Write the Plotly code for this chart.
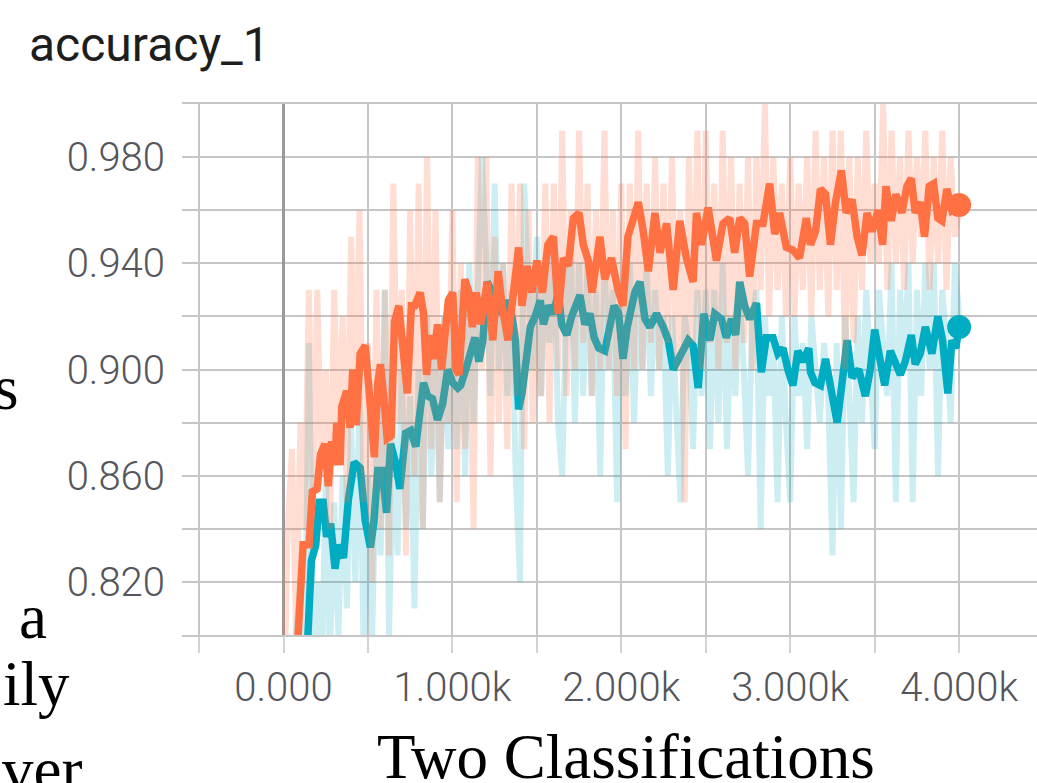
import plotly.graph_objects as go

# ---------------- data ----------------
raw_steps = list(range(0, 4001, 25))

orange_raw = [
    0.76, 0.84, 0.87, 0.80, 0.88, 0.84, 0.93, 0.85,
    0.93, 0.86, 0.90, 0.84, 0.93, 0.87, 0.92, 0.85,
    0.95, 0.88, 0.96, 0.85, 0.91, 0.82, 0.93, 0.84,
    0.93, 0.83, 0.97, 0.88, 0.93, 0.83, 0.96, 0.86,
    0.97, 0.84, 0.98, 0.87, 0.96, 0.85, 0.92, 0.88,
    0.96, 0.85, 0.94, 0.87, 0.93, 0.84, 0.98, 0.90,
    0.98, 0.86, 0.95, 0.88, 0.94, 0.87, 0.97, 0.89,
    0.97, 0.87, 0.96, 0.88, 0.93, 0.89, 0.97, 0.88,
    0.97, 0.90, 0.99, 0.89, 0.96, 0.90, 0.99, 0.91,
    0.97, 0.89, 0.96, 0.90, 0.99, 0.90, 0.96, 0.89,
    0.97, 0.87, 0.97, 0.90, 0.99, 0.90, 0.97, 0.91,
    0.98, 0.90, 0.97, 0.91, 0.98, 0.90, 0.96, 0.85,
    0.98, 0.91, 0.99, 0.90, 0.99, 0.91, 0.97, 0.90,
    0.99, 0.91, 0.98, 0.90, 0.97, 0.91, 0.98, 0.90,
    0.98, 0.93, 1.00, 0.92, 0.98, 0.93, 0.97, 0.92,
    0.98, 0.92, 0.97, 0.93, 0.98, 0.92, 0.99, 0.93,
    0.98, 0.92, 0.99, 0.93, 0.99, 0.90, 0.98, 0.91,
    0.98, 0.93, 0.99, 0.94, 0.97, 0.94, 1.00, 0.93,
    0.99, 0.94, 0.98, 0.93, 0.99, 0.94, 0.98, 0.95,
    0.99, 0.93, 0.98, 0.94, 0.99, 0.93, 0.98, 0.95,
    0.96,
]

teal_raw = [
    0.70, 0.74, 0.78, 0.80, 0.82, 0.78, 0.91, 0.80,
    0.82, 0.78, 0.86, 0.79, 0.85, 0.80, 0.86, 0.81,
    0.88, 0.82, 0.89, 0.79, 0.86, 0.80, 0.87, 0.83,
    0.93, 0.80, 0.88, 0.83, 0.90, 0.84, 0.89, 0.81,
    0.90, 0.84, 0.92, 0.86, 0.91, 0.85, 0.92, 0.87,
    0.92, 0.87, 0.93, 0.86, 0.94, 0.88, 0.93, 0.98,
    0.94, 0.89, 0.97, 0.90, 0.94, 0.89, 0.93, 0.86,
    0.82, 0.97, 0.93, 0.90, 0.95, 0.89, 0.94, 0.91,
    0.95, 0.88, 0.86, 0.93, 0.95, 0.88, 0.94, 0.89,
    0.94, 0.89, 0.93, 0.86, 0.94, 0.90, 0.93, 0.85,
    0.93, 0.89, 0.94, 0.88, 0.93, 0.90, 0.94, 0.89,
    0.93, 0.90, 0.92, 0.86, 0.92, 0.89, 0.85, 0.92,
    0.91, 0.87, 0.93, 0.89, 0.93, 0.87, 0.93, 0.88,
    0.94, 0.87, 0.92, 0.89, 0.93, 0.90, 0.86, 0.92,
    0.93, 0.84, 0.92, 0.89, 0.91, 0.85, 0.92, 0.88,
    0.85, 0.92, 0.89, 0.91, 0.87, 0.92, 0.90, 0.88,
    0.91, 0.89, 0.83, 0.91, 0.84, 0.92, 0.89, 0.85,
    0.92, 0.88, 0.93, 0.90, 0.87, 0.93, 0.91, 0.89,
    0.94, 0.85, 0.93, 0.90, 0.94, 0.85, 0.93, 0.89,
    0.94, 0.90, 0.94, 0.86, 0.93, 0.91, 0.88, 0.94,
    0.92,
]

orange_smooth_steps = [
    60, 86, 116, 151, 171, 199, 219, 245, 265, 285, 305, 315, 335, 345, 374, 394,
    410, 430, 454, 484, 504, 518, 538, 558, 574, 594, 614, 637, 657, 683, 709, 733,
    757, 777, 809, 829, 847, 867, 888, 912, 936, 956, 976, 1002, 1022, 1039, 1074,
    1098, 1118, 1141, 1167, 1206, 1239, 1271, 1294, 1329, 1353, 1392, 1412, 1441,
    1471, 1500, 1533, 1565, 1598, 1627, 1657, 1686, 1716, 1749, 1775, 1804, 1827,
    1873, 1902, 1941, 1980, 2010, 2039, 2069, 2101, 2130, 2160, 2199, 2229, 2268,
    2307, 2346, 2385, 2425, 2445, 2474, 2514, 2563, 2602, 2642, 2671, 2701, 2730,
    2760, 2800, 2839, 2878, 2908, 2937, 2977, 3016, 3055, 3095, 3120, 3150, 3179,
    3209, 3238, 3268, 3303, 3331, 3366, 3396, 3425, 3455, 3484, 3520, 3547, 3567,
    3598, 3626, 3661, 3691, 3717, 3740, 3770, 3795, 3823, 3849, 3874, 3898, 3927,
    3957, 4000,
]
orange_smooth_vals = [
    0.780, 0.799, 0.834, 0.834, 0.854, 0.855, 0.868, 0.872, 0.856, 0.873, 0.864,
    0.880, 0.864, 0.886, 0.892, 0.878, 0.900, 0.879, 0.906, 0.909, 0.894, 0.878,
    0.867, 0.895, 0.902, 0.889, 0.874, 0.875, 0.918, 0.924, 0.908, 0.891, 0.924,
    0.924, 0.929, 0.921, 0.898, 0.913, 0.904, 0.917, 0.900, 0.911, 0.926, 0.929,
    0.900, 0.898, 0.934, 0.929, 0.916, 0.929, 0.917, 0.933, 0.911, 0.937, 0.924,
    0.911, 0.924, 0.946, 0.924, 0.939, 0.929, 0.941, 0.929, 0.947, 0.950, 0.921,
    0.942, 0.939, 0.957, 0.959, 0.947, 0.941, 0.929, 0.950, 0.934, 0.942, 0.930,
    0.924, 0.950, 0.957, 0.963, 0.952, 0.937, 0.959, 0.944, 0.955, 0.930, 0.956,
    0.942, 0.933, 0.959, 0.947, 0.961, 0.941, 0.955, 0.957, 0.944, 0.957, 0.955,
    0.935, 0.955, 0.955, 0.970, 0.951, 0.959, 0.946, 0.945, 0.942, 0.957, 0.947,
    0.952, 0.968, 0.966, 0.947, 0.963, 0.975, 0.959, 0.964, 0.950, 0.943, 0.959,
    0.952, 0.960, 0.947, 0.969, 0.956, 0.966, 0.959, 0.969, 0.972, 0.959, 0.963,
    0.950, 0.969, 0.970, 0.957, 0.956, 0.968, 0.960, 0.962,
]

teal_smooth_steps = [
    130, 145, 165, 191, 211, 235, 255, 279, 305, 325, 355, 384, 418, 454, 484, 514,
    534, 558, 584, 610, 634, 663, 689, 723, 753, 783, 803, 829, 853, 882, 912, 942,
    972, 1002, 1032, 1049, 1079, 1108, 1133, 1157, 1180, 1206, 1235, 1265, 1294,
    1324, 1353, 1373, 1392, 1412, 1435, 1461, 1490, 1520, 1539, 1569, 1598, 1627,
    1647, 1677, 1706, 1735, 1755, 1784, 1814, 1839, 1867, 1902, 1926, 1957, 1984,
    2010, 2035, 2069, 2080, 2110, 2140, 2169, 2209, 2248, 2278, 2307, 2342, 2366,
    2396, 2425, 2455, 2488, 2524, 2553, 2593, 2622, 2652, 2677, 2701, 2730, 2760,
    2800, 2829, 2858, 2898, 2927, 2957, 2986, 3016, 3045, 3075, 3110, 3120, 3146,
    3179, 3209, 3244, 3278, 3307, 3337, 3366, 3406, 3445, 3474, 3500, 3528, 3559,
    3593, 3623, 3652, 3681, 3717, 3740, 3770, 3800, 3839, 3874, 3902, 3933, 3957,
    3980, 4000,
]
teal_smooth_vals = [
    0.780, 0.800, 0.828, 0.834, 0.850, 0.850, 0.837, 0.842, 0.825, 0.834, 0.829,
    0.851, 0.865, 0.863, 0.843, 0.833, 0.842, 0.862, 0.862, 0.846, 0.872, 0.865,
    0.855, 0.876, 0.877, 0.871, 0.880, 0.895, 0.890, 0.889, 0.881, 0.887, 0.900,
    0.895, 0.893, 0.894, 0.900, 0.907, 0.912, 0.903, 0.911, 0.933, 0.929, 0.925,
    0.921, 0.926, 0.920, 0.911, 0.885, 0.891, 0.903, 0.916, 0.920, 0.926, 0.917,
    0.924, 0.921, 0.929, 0.917, 0.913, 0.920, 0.924, 0.928, 0.917, 0.921, 0.912,
    0.908, 0.907, 0.916, 0.924, 0.921, 0.904, 0.916, 0.926, 0.929, 0.933, 0.919,
    0.916, 0.921, 0.916, 0.911, 0.900, 0.904, 0.908, 0.911, 0.909, 0.893, 0.921,
    0.911, 0.921, 0.919, 0.912, 0.919, 0.913, 0.933, 0.924, 0.919, 0.925, 0.899,
    0.912, 0.912, 0.906, 0.908, 0.900, 0.894, 0.907, 0.903, 0.908, 0.899, 0.895,
    0.894, 0.904, 0.893, 0.880, 0.895, 0.911, 0.897, 0.900, 0.890, 0.900, 0.915,
    0.903, 0.894, 0.907, 0.903, 0.898, 0.903, 0.913, 0.902, 0.906, 0.916, 0.906,
    0.920, 0.911, 0.891, 0.911, 0.908, 0.916,
]

x_tick_vals = [-500, 0, 500, 1000, 1500, 2000, 2500, 3000, 3500, 4000]
x_tick_text = ["", "0.000", "", "1.000k", "", "2.000k", "", "3.000k", "", "4.000k"]
y_tick_vals = [0.80, 0.82, 0.84, 0.86, 0.88, 0.90, 0.92, 0.94, 0.96, 0.98, 1.00]
y_tick_text = ["", "0.820", "", "0.860", "", "0.900", "", "0.940", "", "0.980", ""]

title_text = "accuracy_1"
caption_text = "Two Classifications"
side_fragments = ["s", "a", "ily", "ver"]

# ---------------- styling ----------------
ORANGE = "#ff7043"
TEAL = "#00acc1"
W, H = 1037, 783
L, R, T, B = 182, 0, 104, 148
PW, PH = W - L - R, H - T - B


def px_x(px):
    return (px - L) / PW


def px_y(py):
    return (H - B - py) / PH


fig = go.Figure()

fig.add_trace(go.Scatter(x=raw_steps, y=teal_raw, mode="lines",
                         line=dict(color="rgba(0,172,193,0.2)", width=6),
                         hoverinfo="skip", showlegend=False))
fig.add_trace(go.Scatter(x=teal_smooth_steps, y=teal_smooth_vals, mode="lines",
                         line=dict(color=TEAL, width=7.5), showlegend=False))
fig.add_trace(go.Scatter(x=raw_steps, y=orange_raw, mode="lines",
                         line=dict(color="rgba(255,112,67,0.24)", width=6),
                         hoverinfo="skip", showlegend=False))
fig.add_trace(go.Scatter(x=orange_smooth_steps, y=orange_smooth_vals, mode="lines",
                         line=dict(color=ORANGE, width=7.5), showlegend=False))
# end markers
fig.add_trace(go.Scatter(x=[teal_smooth_steps[-1]], y=[teal_smooth_vals[-1]], mode="markers",
                         marker=dict(color=TEAL, size=24), showlegend=False, cliponaxis=False))
fig.add_trace(go.Scatter(x=[orange_smooth_steps[-1]], y=[orange_smooth_vals[-1]], mode="markers",
                         marker=dict(color=ORANGE, size=24), showlegend=False, cliponaxis=False))

tick_font = dict(family="Roboto, Arial, sans-serif", size=40, color="#55555b", weight=300)

fig.update_xaxes(
    range=[-601, 4461],
    tickmode="array", tickvals=x_tick_vals, ticktext=x_tick_text,
    showgrid=True, gridcolor="#c6c6c6", gridwidth=2,
    zeroline=True, zerolinecolor="#9a9a9a", zerolinewidth=3,
    showline=True, mirror=True, linecolor="#c6c6c6", linewidth=2,
    ticks="outside", ticklen=16, tickwidth=2, tickcolor="#d3d3d3",
    tickfont=tick_font, ticklabelstandoff=0,
)
fig.update_yaxes(
    range=[0.8, 1.0],
    tickmode="array", tickvals=y_tick_vals, ticktext=y_tick_text,
    showgrid=True, gridcolor="#c6c6c6", gridwidth=2,
    zeroline=False, showline=False, ticks="",
    tickfont=tick_font, ticklabelstandoff=16,
)

serif = "Liberation Serif, Times New Roman, serif"
annotations = [
    dict(text=title_text, x=px_x(27), y=px_y(45), xref="paper", yref="paper",
         xanchor="left", yanchor="middle", showarrow=False,
         font=dict(family="Roboto, Arial, sans-serif", size=48, color="#1e1e1e")),
    dict(text=caption_text, x=px_x(626), y=px_y(757), xref="paper", yref="paper",
         xanchor="center", yanchor="middle", showarrow=False,
         font=dict(family=serif, size=63, color="#000000")),
]
frag_pos = [(-8, 388), (17, 617), (1, 684), (0, 770)]
for txt, (fx, fy) in zip(side_fragments, frag_pos):
    annotations.append(dict(text=txt, x=px_x(fx), y=px_y(fy), xref="paper", yref="paper",
                            xanchor="left", yanchor="middle", showarrow=False,
                            font=dict(family=serif, size=63, color="#000000")))

fig.update_layout(
    width=W, height=H,
    margin=dict(l=L, r=R, t=T, b=B, pad=0),
    paper_bgcolor="white", plot_bgcolor="white",
    annotations=annotations,
    showlegend=False,
)

fig.write_html("out.html", config={"displayModeBar": False},
               post_script="document.body.style.margin='0';")
